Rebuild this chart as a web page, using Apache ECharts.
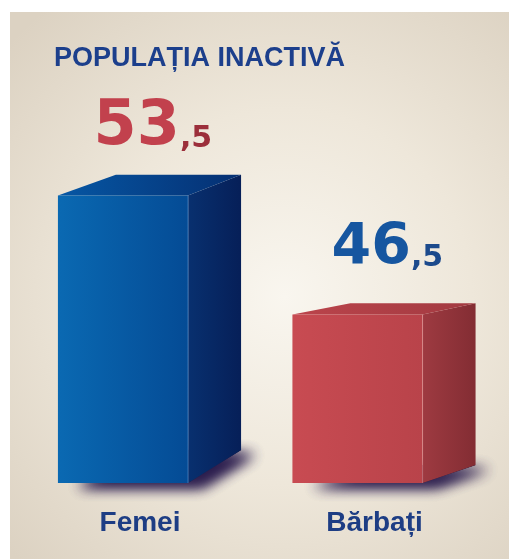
<!DOCTYPE html>
<html>
<head>
<meta charset="utf-8">
<style>
	html, body { margin: 0; padding: 0; background: #fff; }
	#main { width: 509px; height: 559px; }
</style>
<script src="https://cdn.jsdelivr.net/npm/echarts@6/dist/echarts.min.js"></script>
</head>
<body>
<div id="main"></div>
<script>
	// date din grafic
	var categories = ['Femei', 'Bărbați'];
	var values = [53.5, 46.5];
	var valueInt = ['53', '46'];
	var valueDec = [',5', ',5'];

	var yMin = 36.6;

	// culori pentru fiecare cutie (albastru / rosu)
	var palettes = [{
			front: ['#0a69b2', '#044b95'],
			side: ['#08306f', '#061f58'],
			top: ['#0657a4', '#052f72'],
			edge: 'rgba(140,185,235,0.45)',
			big: '#c2414d',
			small: '#9c2f3b'
		},
		{
			front: ['#c84b52', '#b9434a'],
			side: ['#9e3a41', '#832d33'],
			top: ['#bb444b', '#a23a41'],
			edge: 'rgba(240,170,170,0.45)',
			big: '#1656a0',
			small: '#1c4a8c'
		}
	];
	var bigSizes = [62, 57];

	var measureCtx = document.createElement('canvas').getContext('2d');
	function textWidth(txt, size) {
		measureCtx.font = 'bold ' + size + 'px "DejaVu Sans"';
		return measureCtx.measureText(txt).width;
	}

	function grad(c) {
		return {
			type: 'linear', x: 0, y: 0, x2: 1, y2: 0,
			colorStops: [{ offset: 0, color: c[0] }, { offset: 1, color: c[1] }]
		};
	}

	function renderBox(params, api) {
		var idx = params.dataIndex;
		var pal = palettes[idx];
		var top = api.coord([api.value(0), api.value(1)]);
		var base = api.coord([api.value(0), yMin]);
		var bw = api.size([1, 0])[0];
		var x = top[0], yT = top[1], yB = base[1];
		var x0 = x - 0.35 * bw, x1 = x + 0.205 * bw;
		var dxL = 0.247 * bw, dxR = 0.226 * bw;
		var t = (x - params.coordSys.x) / params.coordSys.width;
		var dyB = -(33 - (t - 0.25) * 30);
		var dyT = dyB * 0.63;

		var fs = bigSizes[idx];
		var baseline = yT - 45;
		var wBig = textWidth(valueInt[idx], fs);
		var wSmall = textWidth(valueDec[idx], 30);
		var cx = x + 0.055 * bw;
		var split = cx + (wBig - wSmall) / 2;

		var foot = [[x0 + 6, yB], [x1, yB], [x1 + dxR, yB + dyB], [x0 + dxL, yB + dyB]];
		var shadowStyle = {
			fill: '#2a1f45',
			shadowBlur: 14,
			shadowColor: 'rgba(40,25,75,0.9)',
			shadowOffsetX: 14,
			shadowOffsetY: 4
		};

		return {
			type: 'group',
			children: [{
					// umbra
					type: 'polygon',
					shape: { points: foot },
					style: shadowStyle
				},
				{
					type: 'polygon',
					shape: { points: foot },
					style: shadowStyle
				},
				{
					type: 'polygon',
					shape: { points: [[x1, yT], [x1 + dxR, yT + dyT], [x1 + dxR, yB + dyB], [x1, yB]] },
					style: { fill: grad(pal.side) }
				},
				{
					type: 'polygon',
					shape: { points: [[x0, yT], [x1, yT], [x1 + dxR, yT + dyT], [x0 + dxL, yT + dyT]] },
					style: { fill: grad(pal.top) }
				},
				{
					type: 'rect',
					shape: { x: x0, y: yT, width: x1 - x0, height: yB - yT },
					style: { fill: grad(pal.front) }
				},
				{
					type: 'line',
					shape: { x1: x1, y1: yT, x2: x1, y2: yB },
					style: { stroke: pal.edge, lineWidth: 1 }
				},
				{
					type: 'text',
					style: {
						text: valueInt[idx],
						x: split,
						y: baseline - 0.365 * fs,
						align: 'right',
						verticalAlign: 'middle',
						fill: pal.big,
						fontSize: fs,
						fontWeight: 'bold',
						fontFamily: 'DejaVu Sans'
					}
				},
				{
					type: 'text',
					style: {
						text: valueDec[idx],
						x: split,
						y: baseline - 0.365 * 30,
						align: 'left',
						verticalAlign: 'middle',
						fill: pal.small,
						fontSize: 30,
						fontWeight: 'bold',
						fontFamily: 'DejaVu Sans'
					}
				}
			]
		};
	}

	var instance = echarts.init(document.getElementById('main'), null, { renderer: 'canvas' });

	var option = {
		backgroundColor: '#fff',
		animation: false,
		graphic: [{
			type: 'rect',
			z: -10,
			shape: { x: 10, y: 12, width: 499, height: 547 },
			style: {
				fill: {
					type: 'radial', x: 0.55, y: 0.52, r: 0.75,
					colorStops: [
						{ offset: 0, color: '#f9f6ef' },
						{ offset: 0.5, color: '#eee7da' },
						{ offset: 1, color: '#dcd2c2' }
					]
				}
			}
		}],
		title: {
			text: 'POPULAȚIA INACTIVĂ',
			left: 54,
			top: 45,
			padding: 0,
			textStyle: {
				fontFamily: 'Liberation Sans',
				fontWeight: 'bold',
				fontSize: 27,
				color: '#1c3f8c'
			}
		},
		grid: {
			left: 22.75,
			right: 17.25,
			top: 85,
			bottom: 76
		},
		xAxis: {
			type: 'category',
			data: categories,
			axisLine: { show: false },
			axisTick: { show: false },
			axisLabel: {
				margin: 26,
				color: '#1d3d84',
				fontFamily: 'Liberation Sans',
				fontWeight: 'bold',
				fontSize: 28
			}
		},
		yAxis: {
			type: 'value',
			min: yMin,
			max: 60,
			show: false
		},
		series: [{
			type: 'custom',
			renderItem: renderBox,
			data: values.map(function(v, i) { return [i, v]; })
		}]
	};

	instance.setOption(option);
</script>
</body>
</html>
